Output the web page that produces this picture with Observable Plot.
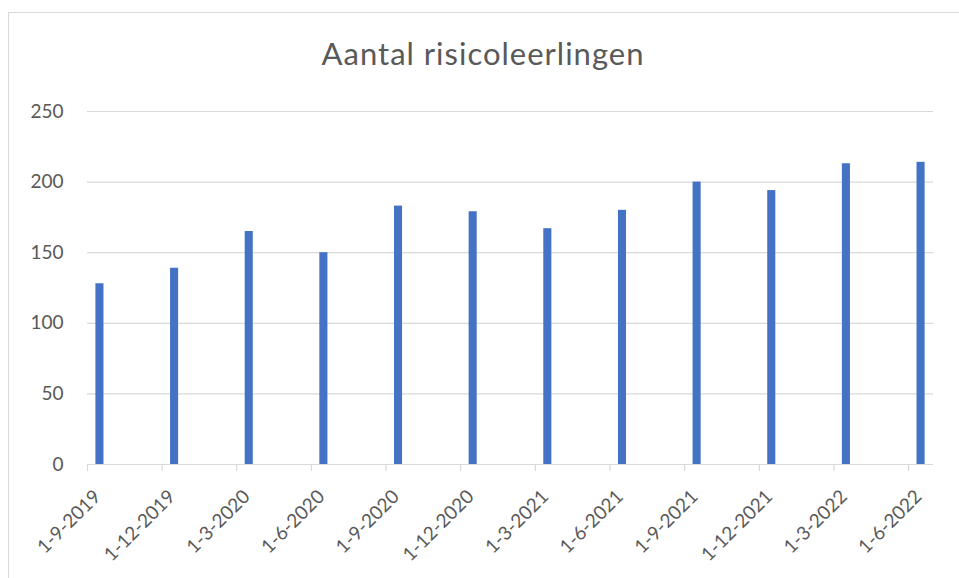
<!DOCTYPE html>
<html><head><meta charset="utf-8">
<script src="https://cdn.jsdelivr.net/npm/d3@7"></script>
<script src="https://cdn.jsdelivr.net/npm/@observablehq/plot@0.6"></script>
<style>
html,body{margin:0;padding:0;background:#fff;overflow:hidden;}
#wrap{position:relative;width:959px;height:578px;overflow:hidden;}
#frame{position:absolute;left:8px;top:12px;width:1000px;height:700px;border:1px solid #d9d9d9;box-sizing:border-box;}
#title{position:absolute;left:0;width:966px;top:38px;text-align:center;font-family:Lato;font-size:31px;letter-spacing:1px;line-height:31px;color:#595959;white-space:nowrap;}
#chart{position:absolute;left:0;top:0;}
</style>
</head><body>
<div id="wrap"><div id="frame"></div><div id="chart"></div><div id="title">Aantal risicoleerlingen</div></div>
<script>
const title = "Aantal risicoleerlingen";
const dateLabels = ["1-9-2019","1-12-2019","1-3-2020","1-6-2020","1-9-2020","1-12-2020","1-3-2021","1-6-2021","1-9-2021","1-12-2021","1-3-2022","1-6-2022"];
const values = [128,139,165,150,183,179,167,180,200,194,213,214];
const yTicks = [0,50,100,150,200,250];

document.getElementById("title").textContent = title;
// month index relative to September 2019
const monthIndex = dateLabels.map(l => { const [d,m,y] = l.split("-").map(Number); return (y-2019)*12 + (m-9); });
const data = dateLabels.map((l,i) => ({label:l, m:monthIndex[i], value:values[i]}));

const chart = Plot.plot({
  width:959, height:578,
  marginLeft:87, marginRight:26, marginTop:111, marginBottom:114,
  style:{fontFamily:"Lato", fontSize:"19px", color:"#595959", background:"transparent"},
  x:{type:"linear", domain:[0,34], axis:null},
  y:{domain:[0,250], axis:null},
  marks:[
    Plot.gridY(yTicks, {stroke:"#d9d9d9", strokeOpacity:1, strokeWidth:1.2}),
    Plot.axisX(monthIndex, {tickSize:7, tickFormat:() => "", label:null, stroke:"#d9d9d9", strokeWidth:1.2}),
    Plot.rect(data, {x1:"m", x2:d => d.m + 1, y1:0, y2:"value", fill:"#4472C4", insetLeft:8.4, insetRight:8.4}),
    Plot.axisY(yTicks, {tickSize:0, tickPadding:24, label:null, fill:"#595959", fontSize:19}),
    Plot.text(data, {x:d => d.m + 0.5, text:"label", frameAnchor:"bottom", rotate:-45, textAnchor:"end", lineAnchor:"middle", dx:-2.5, dy:29, fill:"#595959", fontSize:19})
  ]
});
document.getElementById("chart").appendChild(chart);
</script>
</body></html>
